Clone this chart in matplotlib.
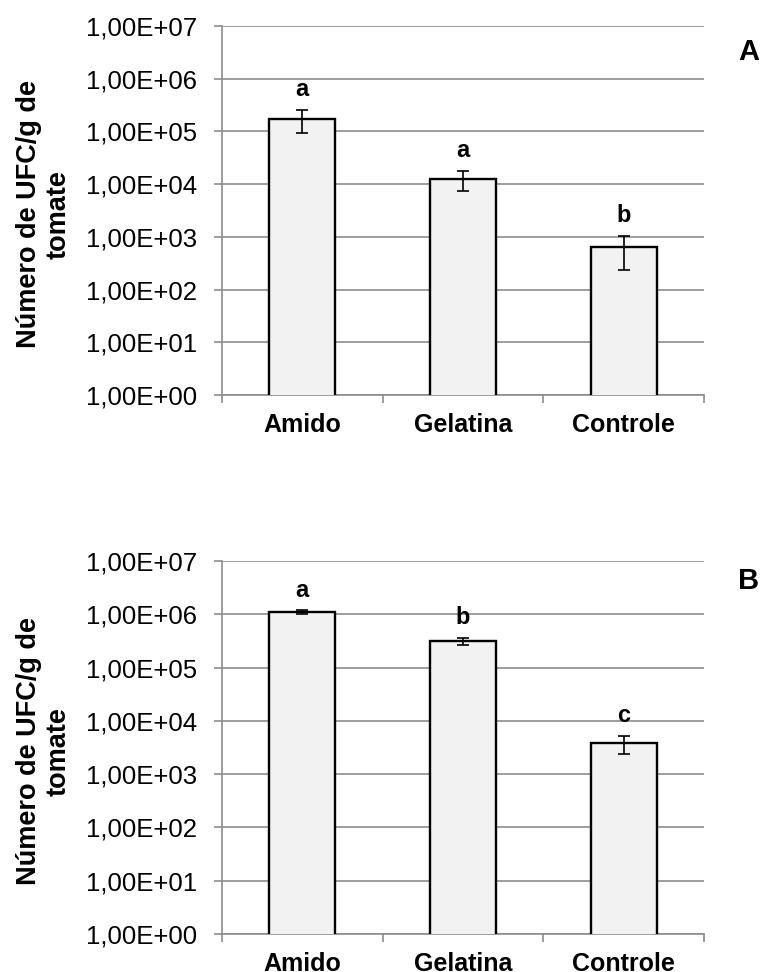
import numpy as np
import matplotlib.pyplot as plt
from matplotlib.ticker import FixedLocator, FixedFormatter, NullLocator

plt.rcParams['font.family'] = ['Liberation Sans', 'DejaVu Sans']

categories = ['Amido', 'Gelatina', 'Controle']

# painel A
means_a = [1.74e5, 1.26e4, 6.4e2]
errs_a = [8.0e4, 5.3e3, 4.0e2]
letters_a = ['a', 'a', 'b']

# painel B
means_b = [1.09e6, 3.1e5, 3.8e3]
errs_b = [9.0e4, 5.0e4, 1.4e3]
letters_b = ['a', 'b', 'c']

ytick_vals = [1e0, 1e1, 1e2, 1e3, 1e4, 1e5, 1e6, 1e7]
ytick_labels = ['1,00E+00', '1,00E+01', '1,00E+02', '1,00E+03',
                '1,00E+04', '1,00E+05', '1,00E+06', '1,00E+07']

ylabel = 'Número de UFC/g de\ntomate'
GRID = '#8c8c8c'


def draw_panel(ax, means, errs, letters, tag, tag_y):
    x = np.arange(len(categories))
    ax.bar(x, means, width=0.41, color='#f2f2f2', edgecolor='black',
           linewidth=1.7, zorder=3)
    ax.errorbar(x, means, yerr=errs, fmt='none', ecolor='black',
                elinewidth=1.2, capsize=4.3, capthick=1.2, zorder=4)
    for xi, m, e, lt in zip(x, means, errs, letters):
        ax.annotate(lt, xy=(xi, m + e), xytext=(0, 10), textcoords='offset points',
                    ha='center', va='baseline', fontsize=17, fontweight='bold')

    ax.set_yscale('log')
    ax.set_ylim(1, 1e7)
    ax.set_xlim(-0.5, 2.5)
    ax.yaxis.set_major_locator(FixedLocator(ytick_vals))
    ax.yaxis.set_major_formatter(FixedFormatter(ytick_labels))
    ax.yaxis.set_minor_locator(NullLocator())
    ax.set_xticks(x)
    ax.set_xticklabels(categories, fontsize=18, fontweight='bold')
    ax.set_xticks([-0.5, 0.5, 1.5, 2.5], minor=True)
    ax.tick_params(axis='x', which='major', length=0, pad=13)
    ax.tick_params(axis='x', which='minor', length=6, width=1.2, color=GRID,
                   direction='out')
    ax.tick_params(axis='y', length=6, width=1.2, color=GRID, labelsize=18.5, pad=12)

    ax.grid(axis='y', color=GRID, linewidth=1.2, zorder=0)
    ax.set_axisbelow(True)
    for s in ['top', 'right']:
        ax.spines[s].set_visible(False)
    for s in ['left', 'bottom']:
        ax.spines[s].set_color(GRID)
        ax.spines[s].set_linewidth(1.2)

    ax.text(-0.37, 0.49, ylabel, transform=ax.transAxes, rotation=90,
            ha='center', va='center', multialignment='center',
            fontsize=19.5, fontweight='bold')
    ax.text(1.093, tag_y, tag, transform=ax.transAxes, ha='center', va='center',
            fontsize=21, fontweight='bold')


fig = plt.figure(figsize=(7.63, 9.72), dpi=100)
ax1 = fig.add_axes([0.291, 0.5936, 0.6317, 0.3797])
ax2 = fig.add_axes([0.291, 0.0391, 0.6317, 0.3837])

draw_panel(ax1, means_a, errs_a, letters_a, 'A', 0.93)
draw_panel(ax2, means_b, errs_b, letters_b, 'B', 0.946)

fig.savefig('out.png', dpi=100)
